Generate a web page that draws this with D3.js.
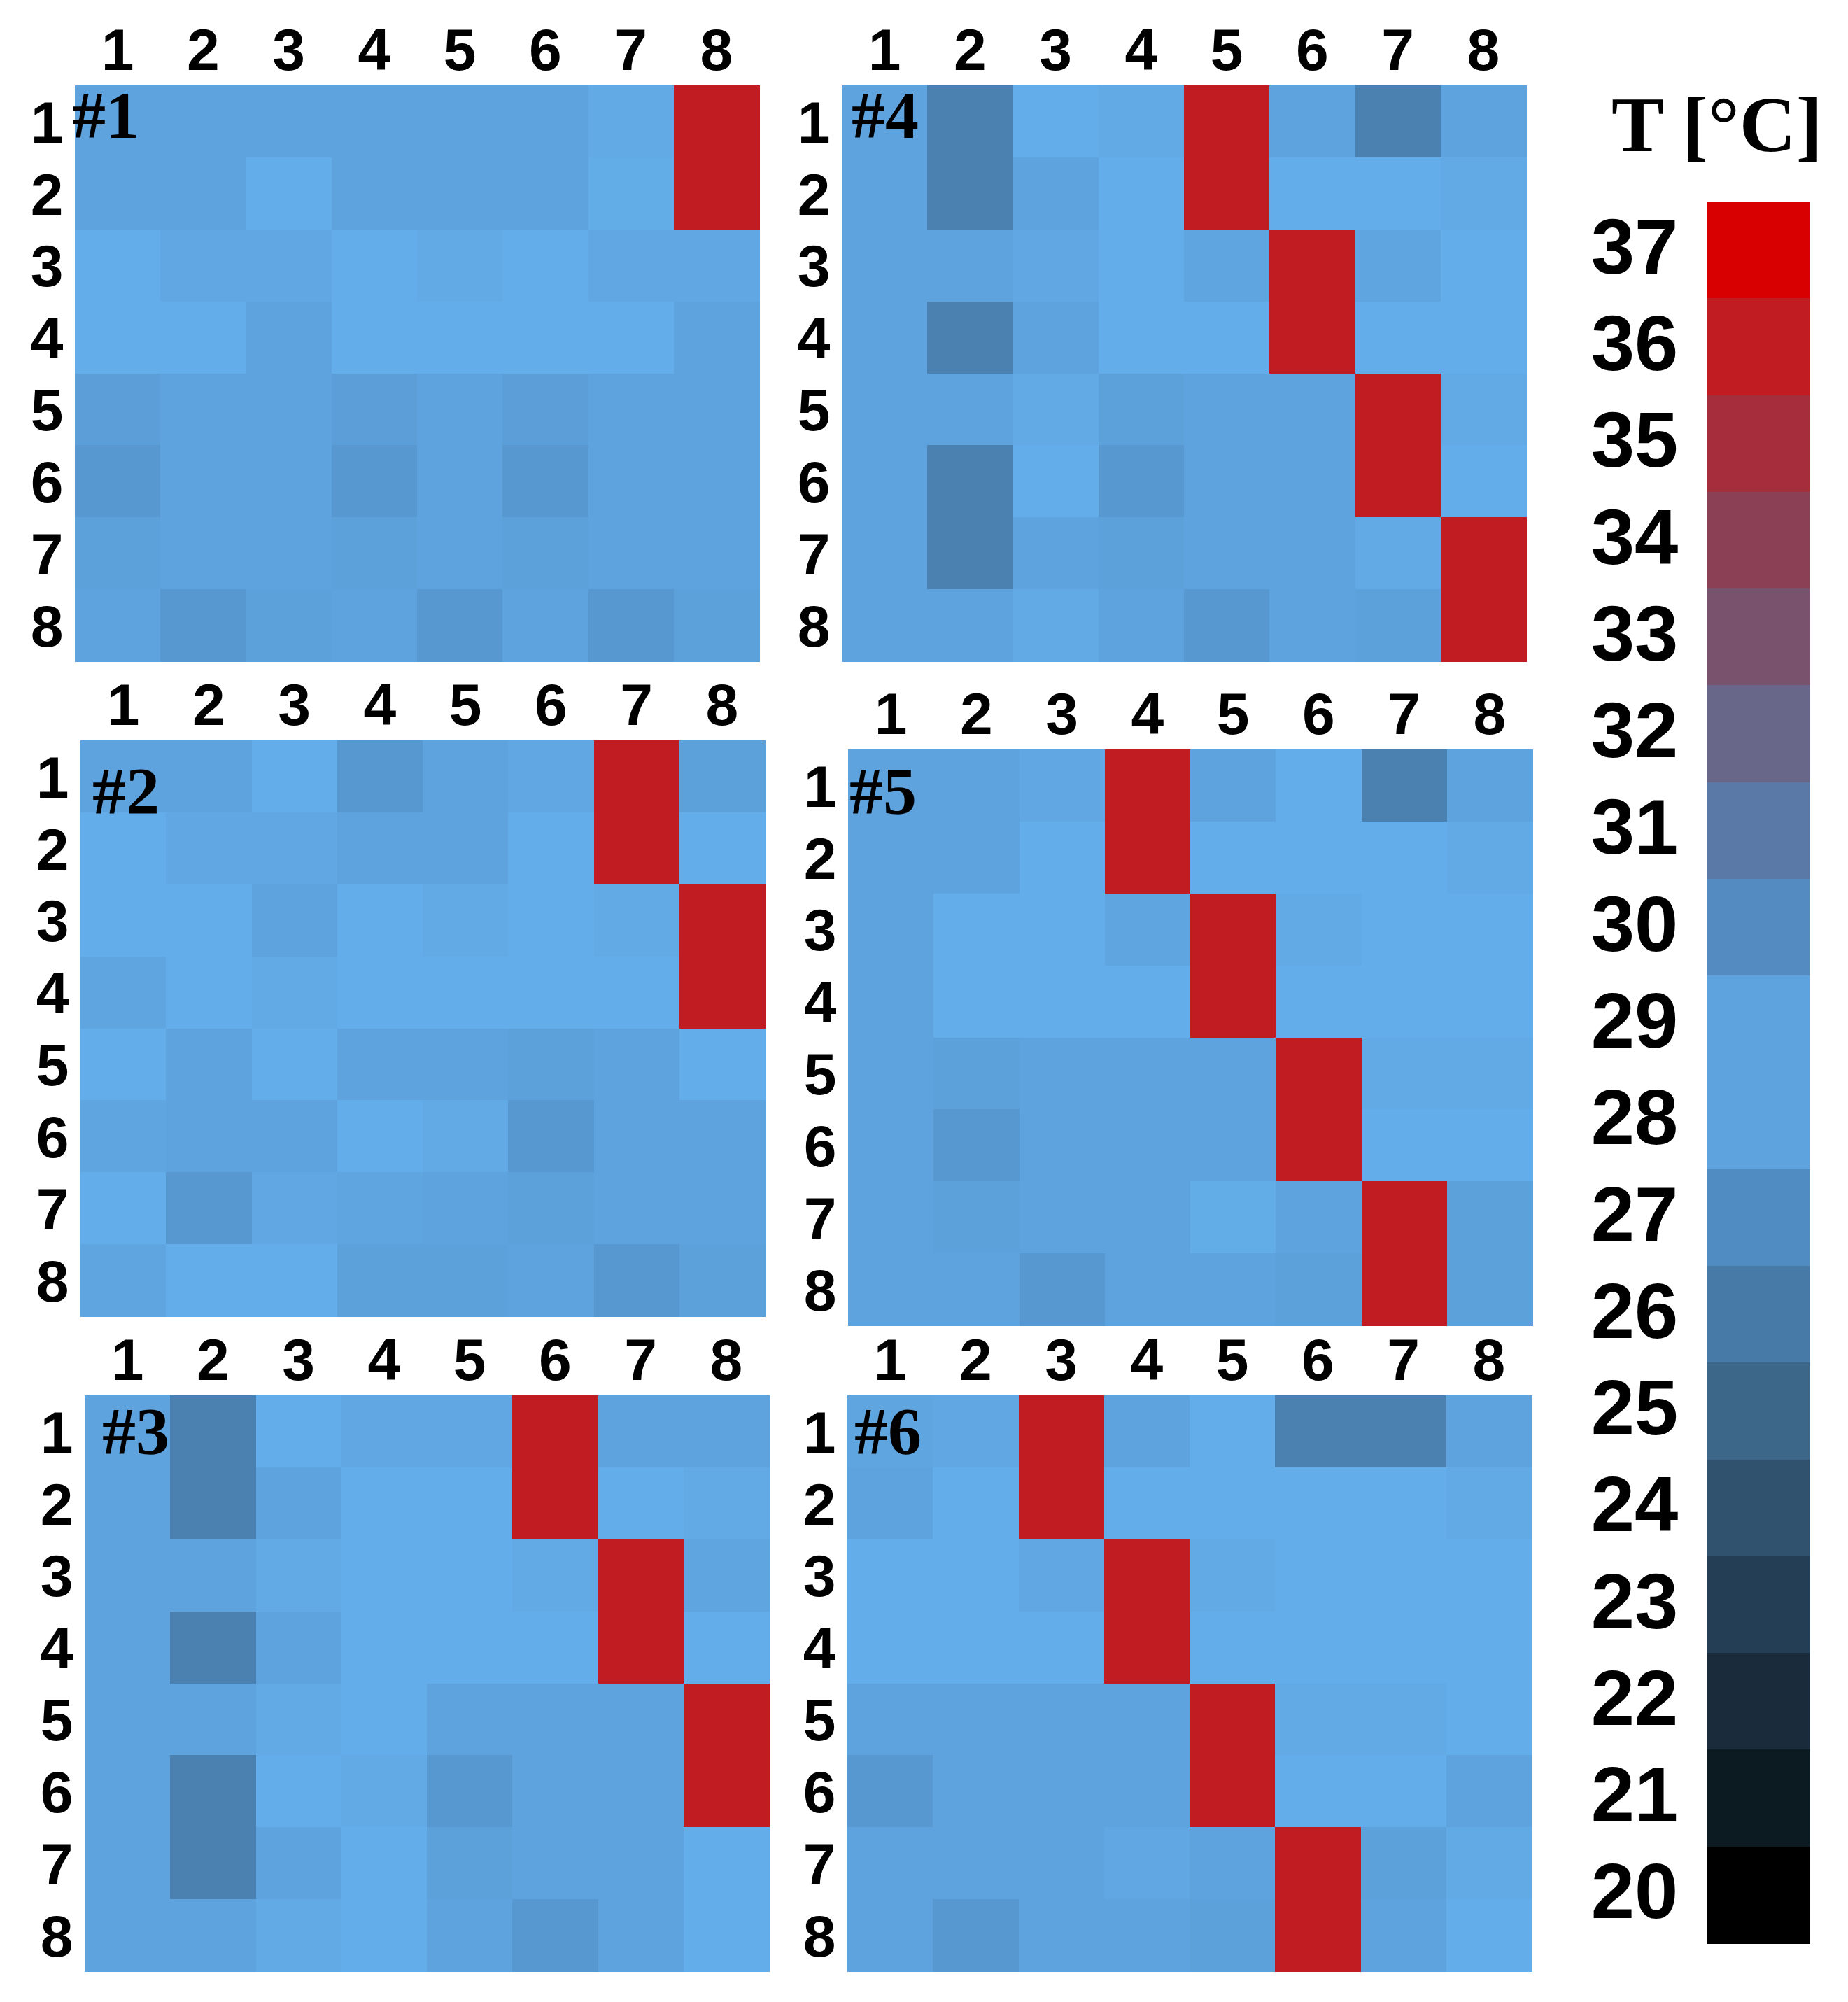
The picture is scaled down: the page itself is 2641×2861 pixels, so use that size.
<!DOCTYPE html>
<html>
<head>
<meta charset="utf-8">
<script src="https://cdn.jsdelivr.net/npm/d3@7/dist/d3.min.js"></script>
<style>
  html, body { margin: 0; padding: 0; background: #ffffff; }
  svg { display: block; }
</style>
</head>
<body>
<script>
// ---------------- DATA ----------------
const rowIds = [1, 2, 3, 4, 5, 6, 7, 8];
const colIds = [1, 2, 3, 4, 5, 6, 7, 8];
const tickLabels = ["1", "2", "3", "4", "5", "6", "7", "8"];
const panelNames = ["#1", "#2", "#3", "#4", "#5", "#6"];

// Temperatures [°C], rows 1..8 (top to bottom), columns 1..8 (left to right)
const panel1 = [
  [28.0, 28.0, 28.0, 28.0, 28.0, 28.0, 28.3, 36.0],
  [28.0, 28.0, 28.5, 28.0, 28.0, 28.0, 28.4, 36.0],
  [28.5, 28.2, 28.2, 28.5, 28.3, 28.5, 28.2, 28.2],
  [28.5, 28.5, 28.0, 28.5, 28.5, 28.5, 28.5, 28.0],
  [27.8, 28.0, 28.0, 27.8, 28.0, 27.8, 28.0, 28.0],
  [27.5, 28.0, 28.0, 27.5, 28.0, 27.5, 28.0, 28.0],
  [27.9, 28.0, 28.0, 27.9, 28.0, 27.9, 28.0, 28.0],
  [28.0, 27.5, 27.9, 28.0, 27.5, 28.0, 27.5, 27.9]
];
const panel2 = [
  [28.0, 28.0, 28.5, 27.5, 28.0, 28.2, 36.0, 27.9],
  [28.5, 28.2, 28.2, 28.0, 28.0, 28.5, 36.0, 28.5],
  [28.5, 28.5, 28.0, 28.5, 28.3, 28.5, 28.3, 36.0],
  [28.1, 28.5, 28.3, 28.5, 28.5, 28.5, 28.5, 36.0],
  [28.5, 28.0, 28.5, 28.0, 28.0, 27.9, 28.0, 28.5],
  [28.1, 28.0, 28.0, 28.5, 28.3, 27.5, 28.0, 28.0],
  [28.5, 27.5, 28.2, 28.1, 28.0, 27.9, 28.0, 28.0],
  [28.1, 28.5, 28.5, 27.9, 27.9, 28.0, 27.5, 27.9]
];
const panel3 = [
  [28.0, 26.4, 28.5, 28.2, 28.2, 36.0, 28.0, 28.0],
  [28.0, 26.4, 28.0, 28.5, 28.5, 36.0, 28.5, 28.3],
  [28.0, 28.0, 28.3, 28.5, 28.5, 28.3, 36.0, 28.1],
  [28.0, 26.4, 28.0, 28.5, 28.5, 28.5, 36.0, 28.5],
  [28.0, 28.0, 28.3, 28.5, 28.0, 28.0, 28.0, 36.0],
  [28.0, 26.4, 28.5, 28.3, 27.5, 28.0, 28.0, 36.0],
  [28.0, 26.4, 28.0, 28.5, 27.9, 28.0, 28.0, 28.5],
  [28.0, 28.0, 28.3, 28.5, 28.0, 27.5, 28.0, 28.5]
];
const panel4 = [
  [28.0, 26.4, 28.5, 28.3, 36.0, 28.0, 26.4, 28.0],
  [28.0, 26.4, 28.0, 28.5, 36.0, 28.5, 28.5, 28.3],
  [28.0, 28.0, 28.2, 28.5, 28.1, 36.0, 28.1, 28.5],
  [28.0, 26.4, 28.0, 28.5, 28.5, 36.0, 28.5, 28.5],
  [28.0, 28.0, 28.3, 27.9, 28.0, 28.0, 36.0, 28.3],
  [28.0, 26.4, 28.5, 27.5, 28.0, 28.0, 36.0, 28.5],
  [28.0, 26.4, 28.0, 27.9, 28.0, 28.0, 28.3, 36.0],
  [28.0, 28.0, 28.3, 28.0, 27.5, 28.0, 27.9, 36.0]
];
const panel5 = [
  [28.0, 28.0, 28.2, 36.0, 28.0, 28.5, 26.4, 28.0],
  [28.0, 28.0, 28.5, 36.0, 28.5, 28.5, 28.5, 28.3],
  [28.0, 28.5, 28.5, 28.1, 36.0, 28.3, 28.5, 28.5],
  [28.0, 28.5, 28.5, 28.5, 36.0, 28.5, 28.5, 28.5],
  [28.0, 27.9, 28.0, 28.0, 28.0, 36.0, 28.3, 28.3],
  [28.0, 27.5, 28.0, 28.0, 28.0, 36.0, 28.5, 28.5],
  [28.0, 27.9, 28.0, 28.0, 28.4, 28.0, 36.0, 27.9],
  [28.0, 28.0, 27.5, 28.0, 28.0, 27.9, 36.0, 27.9]
];
const panel6 = [
  [28.1, 28.2, 36.0, 28.0, 28.5, 26.4, 26.4, 28.0],
  [28.0, 28.5, 36.0, 28.5, 28.5, 28.5, 28.5, 28.3],
  [28.5, 28.5, 28.2, 36.0, 28.3, 28.5, 28.5, 28.5],
  [28.5, 28.5, 28.5, 36.0, 28.5, 28.5, 28.5, 28.5],
  [28.0, 28.0, 28.0, 28.0, 36.0, 28.3, 28.3, 28.5],
  [27.5, 28.0, 28.0, 28.0, 36.0, 28.5, 28.5, 28.0],
  [28.0, 28.0, 28.0, 28.2, 28.0, 36.0, 27.9, 28.3],
  [28.0, 27.5, 28.0, 28.0, 27.9, 36.0, 28.0, 28.5]
];

// colour bar
const legendTemps = [37, 36, 35, 34, 33, 32, 31, 30, 29, 28, 27, 26, 25, 24, 23, 22, 21, 20];
const legendColors = ["#d80000", "#c01c22", "#a52d3c", "#8c4055", "#79526e", "#686689",
  "#5b79a6", "#548cc2", "#5ea3de", "#5ea3de", "#508cc2", "#477aa6", "#3c6789",
  "#30526e", "#243f55", "#1a2c3c", "#0c1b21", "#000000"];
// continuous colour map used for the cells (colour-bar stops + the light-blue peak)
const mapTemps  = [20, 21, 22, 23, 24, 25, 26, 27, 28, 28.5, 29, 30, 31, 32, 33, 34, 35, 36, 37];
const mapColors = ["#000000", "#0c1b21", "#1a2c3c", "#243f55", "#30526e", "#3c6789", "#477aa6",
  "#508cc2", "#5ea3de", "#63aeea", "#5ea3de", "#548cc2", "#5b79a6", "#686689", "#79526e",
  "#8c4055", "#a52d3c", "#c01c22", "#d80000"];
const legendTitle = "T [°C]";

// ---------------- LAYOUT ----------------
const W = 2641, H = 2861;
const gridW = 978, gridH = 823;
const layout = [
  { data: panel1, name: panelNames[0], x: 107,  y: 122,  nx: -4, ny: 75 },
  { data: panel2, name: panelNames[1], x: 115,  y: 1058, nx: 17, ny: 105 },
  { data: panel3, name: panelNames[2], x: 121,  y: 1994, nx: 25, ny: 84 },
  { data: panel4, name: panelNames[3], x: 1203, y: 122,  nx: 14, ny: 75 },
  { data: panel5, name: panelNames[4], x: 1212, y: 1071, nx: 2,  ny: 92 },
  { data: panel6, name: panelNames[5], x: 1211, y: 1994, nx: 10, ny: 84 }
];
const tickFont = "'Liberation Sans', Arial, sans-serif";
const serifFont = "'Liberation Serif', 'Times New Roman', serif";

const svg = d3.select("body").append("svg")
  .attr("width", W).attr("height", H)
  .attr("viewBox", `0 0 ${W} ${H}`);
svg.append("rect").attr("width", W).attr("height", H).attr("fill", "#ffffff");

const color = d3.scaleLinear().domain(mapTemps).range(mapColors)
  .interpolate(d3.interpolateRgb).clamp(true);

const x = d3.scaleBand().domain(colIds).range([0, gridW]);
const y = d3.scaleBand().domain(rowIds).range([0, gridH]);

layout.forEach(p => {
  const g = svg.append("g").attr("transform", `translate(${p.x},${p.y})`);
  const cells = [];
  p.data.forEach((row, ri) => row.forEach((v, ci) => cells.push({ r: rowIds[ri], c: colIds[ci], v })));
  g.selectAll("rect.cell").data(cells).join("rect")
    .attr("class", "cell")
    .attr("x", d => x(d.c))
    .attr("y", d => y(d.r))
    .attr("width", x.bandwidth() + 0.5)
    .attr("height", y.bandwidth() + 0.5)
    .attr("fill", d => color(d.v))
    .attr("shape-rendering", "crispEdges");

  // column axis (top)
  const xAxis = d3.axisTop(x).tickSize(0).tickPadding(22).tickFormat((d, i) => tickLabels[i]);
  const gx = g.append("g").call(xAxis);
  gx.select(".domain").remove();
  gx.selectAll("text").attr("font-family", tickFont).attr("font-weight", "bold")
    .attr("font-size", 84).attr("fill", "#000");

  // row axis (left)
  const yAxis = d3.axisLeft(y).tickSize(0).tickPadding(22).tickFormat((d, i) => tickLabels[i]);
  const gy = g.append("g").call(yAxis);
  gy.select(".domain").remove();
  gy.selectAll("text").attr("font-family", tickFont).attr("font-weight", "bold")
    .attr("font-size", 84).attr("fill", "#000").attr("text-anchor", "middle").attr("x", -40)
    .attr("dy", "0.36em");

  // panel name
  g.append("text").attr("x", p.nx).attr("y", p.ny)
    .attr("font-family", serifFont).attr("font-weight", "bold")
    .attr("font-size", 96).attr("fill", "#000").text(p.name);
});

// ---------------- COLOUR BAR ----------------
const cbX = 2440, cbW = 147, cbTop = 288, cbBottom = 2777;
const cbY = d3.scaleBand().domain(legendTemps).range([cbTop, cbBottom]);
const cb = svg.append("g");
cb.selectAll("rect").data(legendTemps).join("rect")
  .attr("x", cbX).attr("y", d => cbY(d))
  .attr("width", cbW).attr("height", cbY.bandwidth() + 0.5)
  .attr("fill", (d, i) => legendColors[i])
  .attr("shape-rendering", "crispEdges");

const cbAxis = d3.axisLeft(cbY).tickSize(0).tickPadding(0);
const gcb = svg.append("g").attr("transform", `translate(${cbX},0)`).call(cbAxis);
gcb.select(".domain").remove();
gcb.selectAll("text").attr("font-family", tickFont).attr("font-weight", "bold")
  .attr("font-size", 112).attr("fill", "#000").attr("text-anchor", "middle")
  .attr("x", 2336 - cbX).attr("dy", "0.30em");

svg.append("text").attr("x", 2303).attr("y", 216)
  .attr("font-family", serifFont).attr("font-weight", "bold")
  .attr("font-size", 112).attr("fill", "#000").text(legendTitle);
</script>
</body>
</html>
